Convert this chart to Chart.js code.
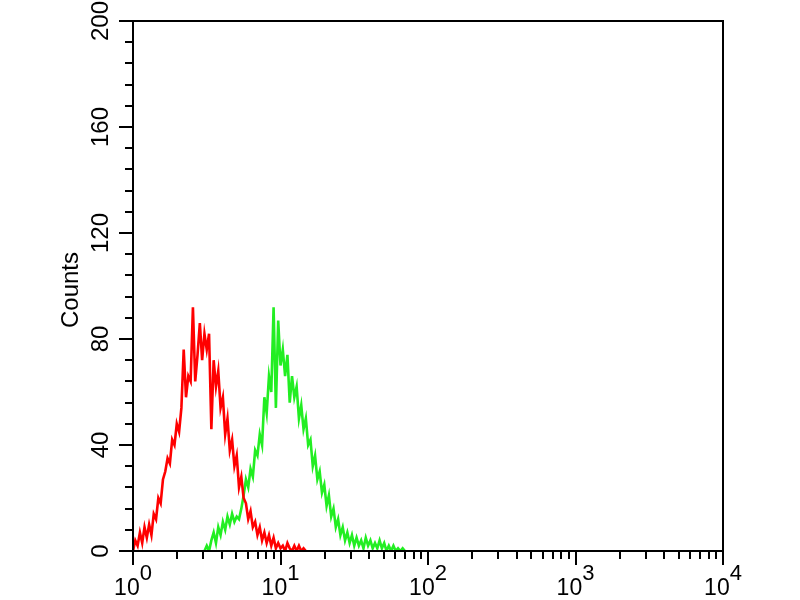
<!DOCTYPE html>
<html>
<head>
<meta charset="utf-8">
<script src="https://cdn.jsdelivr.net/npm/chart.js@4/dist/chart.umd.min.js"></script>
<style>
  html, body { margin: 0; padding: 0; background: #ffffff; }
  #wrap { width: 800px; height: 600px; position: relative; }
</style>
</head>
<body>
<div id="wrap"><canvas id="c" width="800" height="600"></canvas></div>
<script>
// ---- Data (histogram counts) ----
const channelsPerDecade = 256;   // 1024 channels over 4 decades
const channelStep = 4;           // every bin below spans 4 channels
const redStartChannel = 0;
const greenStartChannel = 124;

const redCounts = [
  0, 4, 2, 7, 3, 9, 5, 10, 6, 14,
  12, 20, 18, 27, 30, 35, 33, 42, 40, 48,
  45, 54, 76, 58, 66, 64, 92, 64, 74, 86,
  72, 82, 76, 82, 46, 72, 62, 68, 54, 58,
  44, 50, 38, 42, 32, 36, 24, 28, 20, 18,
  12, 15, 9, 11, 6, 9, 4, 7, 3, 6,
  2, 5, 1, 3, 1, 2, 0, 3, 1, 0,
  2, 0, 2, 0, 1, 0
];

const greenCounts = [
  0, 2, 0, 4, 7, 3, 9, 6, 11, 8,
  13, 10, 14, 11, 13, 12, 16, 21, 27, 24,
  31, 28, 38, 36, 44, 40, 58, 52, 66, 60,
  92, 54, 87, 70, 76, 66, 74, 56, 66, 58,
  62, 50, 55, 46, 50, 40, 42, 32, 36, 27,
  30, 22, 25, 17, 21, 13, 16, 9, 12, 6,
  9, 4, 7, 3, 6, 2, 5, 2, 4, 1,
  5, 2, 4, 1, 3, 1, 4, 1, 3, 0,
  2, 0, 2, 0, 1, 0, 1, 0
];

// ---- Axis definitions ----
const xMin = 1, xMax = 10000;
const xLabelExponents = [0, 1, 2, 3, 4];
const xMinorMultipliers = [2, 3, 4, 5, 6, 7, 8, 9];
const yMin = 0, yMax = 200;
const yTickLabels = [0, 40, 80, 120, 160, 200];
const yMinorStep = 8;
const yTitle = 'Counts';

function toPoints(counts, startCh) {
  return counts.map((c, i) => ({
    x: Math.pow(10, (startCh + i * channelStep) / channelsPerDecade),
    y: c
  }));
}

const FONT = '"Liberation Sans", Arial, Helvetica, sans-serif';

const framePlugin = {
  id: 'frame',
  afterDraw(chart) {
    const { ctx, chartArea: a, scales: { x, y } } = chart;
    ctx.save();
    ctx.strokeStyle = '#000';
    ctx.lineWidth = 2;
    ctx.strokeRect(a.left, a.top, a.right - a.left, a.bottom - a.top);

    // y ticks
    for (let v = yMin; v <= yMax; v += yMinorStep) {
      const py = Math.round(y.getPixelForValue(v));
      const len = yTickLabels.includes(v) ? 14 : 8;
      ctx.beginPath();
      ctx.moveTo(a.left - len, py);
      ctx.lineTo(a.left, py);
      ctx.stroke();
    }
    // x ticks
    xLabelExponents.forEach(e => {
      const vals = [{ v: Math.pow(10, e), major: true }];
      if (e < xLabelExponents[xLabelExponents.length - 1]) {
        xMinorMultipliers.forEach(m => vals.push({ v: m * Math.pow(10, e), major: false }));
      }
      vals.forEach(t => {
        const px = Math.round(x.getPixelForValue(t.v));
        const len = t.major ? 14 : 8;
        ctx.beginPath();
        ctx.moveTo(px, a.bottom);
        ctx.lineTo(px, a.bottom + len);
        ctx.stroke();
      });
    });

    // y tick labels (rotated)
    ctx.fillStyle = '#000';
    ctx.font = '24px ' + FONT;
    ctx.textAlign = 'center';
    ctx.textBaseline = 'middle';
    yTickLabels.forEach(v => {
      const py = y.getPixelForValue(v);
      ctx.save();
      ctx.translate(101, py);
      ctx.rotate(-Math.PI / 2);
      ctx.fillText(String(v), 0, 0);
      ctx.restore();
    });

    // y title
    ctx.save();
    ctx.translate(71, (a.top + a.bottom) / 2 + 4);
    ctx.rotate(-Math.PI / 2);
    ctx.fillText(yTitle, 0, 0);
    ctx.restore();

    // x tick labels: 10 with superscript exponent
    ctx.textAlign = 'left';
    ctx.textBaseline = 'alphabetic';
    xLabelExponents.forEach(e => {
      const px = x.getPixelForValue(Math.pow(10, e));
      ctx.font = '23px ' + FONT;
      const base = '10';
      const w1 = ctx.measureText(base).width;
      ctx.font = '22px ' + FONT;
      const sup = String(e);
      const w2 = ctx.measureText(sup).width;
      const start = px - (w1 + w2) / 2;
      ctx.font = '23px ' + FONT;
      ctx.fillText(base, start, 595);
      ctx.font = '22px ' + FONT;
      ctx.fillText(sup, start + w1, 580);
    });
    ctx.restore();
  }
};

new Chart(document.getElementById('c'), {
  type: 'line',
  data: {
    datasets: [
      {
        label: 'Red',
        data: toPoints(redCounts, redStartChannel),
        borderColor: '#ff0000',
        borderWidth: 2.6,
        pointRadius: 0,
        tension: 0,
        fill: false
      },
      {
        label: 'Green',
        data: toPoints(greenCounts, greenStartChannel),
        borderColor: '#22ee22',
        borderWidth: 2.6,
        pointRadius: 0,
        tension: 0,
        fill: false
      }
    ]
  },
  options: {
    responsive: false,
    animation: false,
    layout: { padding: { left: 133, right: 77, top: 21, bottom: 49 } },
    plugins: { legend: { display: false }, tooltip: { enabled: false } },
    scales: {
      x: { type: 'logarithmic', min: xMin, max: xMax, display: false },
      y: { type: 'linear', min: yMin, max: yMax, display: false }
    }
  },
  plugins: [framePlugin]
});
</script>
</body>
</html>
